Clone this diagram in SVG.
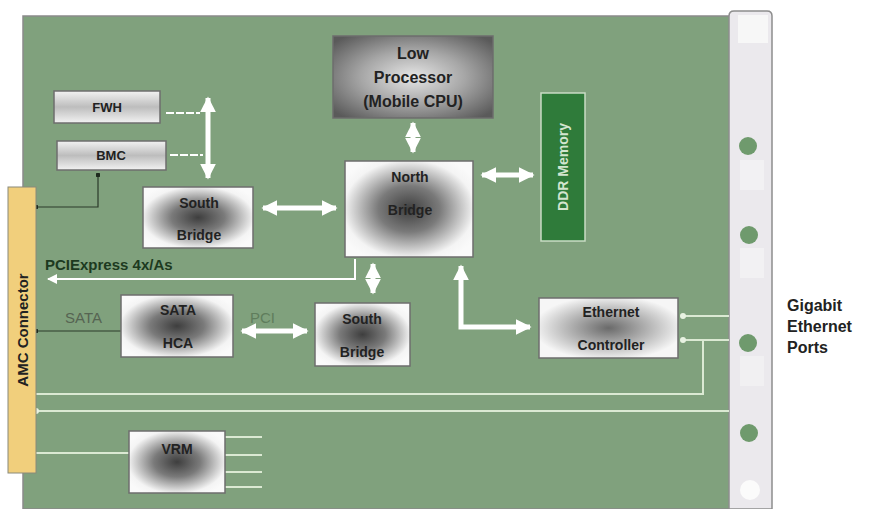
<svg xmlns="http://www.w3.org/2000/svg" width="871" height="509" viewBox="0 0 871 509">
<defs>
<radialGradient id="gDark" cx="0.5" cy="0.5" r="0.6">
<stop offset="0" stop-color="#3e3e3e"/>
<stop offset="0.4" stop-color="#7a7a7a"/>
<stop offset="0.85" stop-color="#f4f4f4"/>
<stop offset="1" stop-color="#fafafa"/>
</radialGradient>
<radialGradient id="gMid" cx="0.5" cy="0.5" r="0.6">
<stop offset="0" stop-color="#6a6a6a"/>
<stop offset="0.4" stop-color="#a8a8a8"/>
<stop offset="0.9" stop-color="#f6f6f6"/>
</radialGradient>
<radialGradient id="gProc" cx="0.5" cy="0.5" r="0.65">
<stop offset="0" stop-color="#e6e6e6"/>
<stop offset="0.5" stop-color="#a6a6a6"/>
<stop offset="1" stop-color="#5a5a5a"/>
</radialGradient>
<linearGradient id="gBar" x1="0" y1="0" x2="0" y2="1">
<stop offset="0" stop-color="#f2f2f2"/>
<stop offset="0.5" stop-color="#bdbdbd"/>
<stop offset="1" stop-color="#f2f2f2"/>
</linearGradient>
<marker id="ah" viewBox="0 0 10 10" refX="9" refY="5" markerWidth="3.2" markerHeight="3.2" orient="auto-start-reverse" markerUnits="strokeWidth">
<path d="M0,0 L10,5 L0,10 z" fill="#ffffff"/>
</marker>
<marker id="ahs" viewBox="0 0 10 10" refX="9" refY="5" markerWidth="5" markerHeight="5" orient="auto-start-reverse" markerUnits="strokeWidth">
<path d="M0,0 L10,5 L0,10 z" fill="#ffffff"/>
</marker>
<marker id="dotd" viewBox="0 0 10 10" refX="5" refY="5" markerWidth="4" markerHeight="4" markerUnits="strokeWidth">
<circle cx="5" cy="5" r="5" fill="#1e2a1e"/>
</marker>
<marker id="dotl" viewBox="0 0 10 10" refX="5" refY="5" markerWidth="3" markerHeight="3" markerUnits="strokeWidth">
<circle cx="5" cy="5" r="5" fill="#e8f2e2"/>
</marker>
</defs>
<style>
.t{font-family:"Liberation Sans",Arial,sans-serif;font-weight:bold;fill:#222;text-anchor:middle}
.box{stroke:#6d6d6d;stroke-width:1.5}
.fat{stroke:#ffffff;stroke-width:5;fill:none}
.thin{stroke:#ffffff;stroke-width:2;fill:none}
.trace{stroke:#dbe9d3;stroke-width:2;fill:none}
.dark{stroke:#2a3a2a;stroke-width:1.2;fill:none}
.port{fill:#6f9a6d}
.lab{font-family:"Liberation Sans",Arial,sans-serif;font-size:15px}
</style>
<rect width="871" height="509" fill="#ffffff"/>
<!-- board -->
<rect x="23" y="16" width="708" height="493" fill="#80a17d" stroke="#8a8a8a" stroke-width="1.5"/>
<!-- faceplate -->
<g id="faceplate">
<path d="M729,509 L729,16 Q729,11 734,11 L767,11 Q772,11 772,16 L772,509 Z" fill="#ebe9ed" stroke="#8d8d8d" stroke-width="1.5"/>
<rect x="738" y="15" width="30" height="28" fill="#f7f7f7"/>
<rect x="740" y="160" width="24" height="30" fill="#f2f1f3"/>
<rect x="740" y="248" width="24" height="30" fill="#f2f1f3"/>
<rect x="740" y="356" width="24" height="30" fill="#f1f0f2"/>
<circle class="port" cx="748" cy="146" r="9"/>
<circle class="port" cx="749" cy="235" r="9"/>
<circle class="port" cx="748" cy="343" r="9"/>
<circle class="port" cx="749" cy="433" r="9"/>
<circle cx="750" cy="490" r="10" fill="#fbfbfb"/>
</g>
<!-- connectors -->
<g id="connectors">
<line class="fat" x1="208" y1="98" x2="208" y2="178" marker-start="url(#ah)" marker-end="url(#ah)"/>
<line class="thin" x1="166" y1="113" x2="200" y2="113" stroke-dasharray="8,2"/>
<line class="thin" x1="170" y1="155" x2="203" y2="155" stroke-dasharray="8,2"/>
<polyline class="dark" points="98,175 98,207 36,207" marker-start="url(#dotd)" marker-end="url(#dotd)"/>
<line class="fat" x1="263" y1="208" x2="336" y2="208" marker-start="url(#ah)" marker-end="url(#ah)"/>
<line class="fat" x1="413" y1="123" x2="413" y2="152" marker-start="url(#ah)" marker-end="url(#ah)"/>
<line class="fat" x1="482" y1="175" x2="533" y2="175" marker-start="url(#ah)" marker-end="url(#ah)"/>
<polyline class="thin" points="355,259 355,279 48,279" marker-end="url(#ahs)"/>
<line class="fat" x1="373" y1="264" x2="373" y2="293" marker-start="url(#ah)" marker-end="url(#ah)"/>
<polyline class="fat" points="461,266 461,327 530,327" marker-start="url(#ah)" marker-end="url(#ah)"/>
<line class="dark" x1="36" y1="331" x2="121" y2="331" marker-start="url(#dotd)"/>
<line class="fat" x1="242" y1="331" x2="307" y2="331" marker-start="url(#ah)" marker-end="url(#ah)"/>
<line class="trace" x1="683" y1="316" x2="729" y2="316" marker-start="url(#dotl)"/>
<line class="trace" x1="683" y1="340" x2="729" y2="340" marker-start="url(#dotl)"/>
<polyline class="trace" points="703,340 703,394 36,394"/>
<line class="trace" x1="36" y1="411" x2="729" y2="411" marker-start="url(#dotl)"/>
<line class="trace" x1="36" y1="453" x2="129" y2="453"/>
<line class="trace" x1="225" y1="437" x2="262" y2="437"/>
<line class="trace" x1="225" y1="455" x2="262" y2="455"/>
<line class="trace" x1="225" y1="472" x2="262" y2="472"/>
<line class="trace" x1="225" y1="487" x2="262" y2="487"/>
</g>
<!-- AMC connector -->
<g id="amc">
<rect x="8" y="187" width="28" height="286" fill="#f1cf7c" stroke="#8a8a7a" stroke-width="1"/>
<text class="t" transform="translate(28,330) rotate(-90)" font-size="15">AMC Connector</text>
</g>
<g id="fwh">
<rect class="box" x="54" y="91" width="106" height="32" fill="url(#gBar)"/>
<text class="t" x="107" y="112" font-size="13">FWH</text>
</g>
<g id="bmc">
<rect class="box" x="57" y="141" width="109" height="29" fill="url(#gBar)"/>
<text class="t" x="111" y="160" font-size="13">BMC</text>
</g>
<g id="south-bridge-1">
<rect class="box" x="143" y="187" width="110" height="61" fill="url(#gDark)"/>
<text class="t" x="199" y="208" font-size="14">South</text>
<text class="t" x="199" y="240" font-size="14">Bridge</text>
</g>
<g id="processor">
<rect class="box" x="333" y="36" width="160" height="82" fill="url(#gProc)" stroke="#555"/>
<text class="t" x="413" y="59" font-size="16">Low</text>
<text class="t" x="413" y="83" font-size="16">Processor</text>
<text class="t" x="413" y="107" font-size="16">(Mobile CPU)</text>
</g>
<g id="north-bridge">
<rect class="box" x="345" y="161" width="128" height="96" fill="url(#gDark)"/>
<text class="t" x="410" y="182" font-size="14">North</text>
<text class="t" x="410" y="215" font-size="14">Bridge</text>
</g>
<g id="ddr">
<rect x="541" y="93" width="44" height="148" fill="#2f7b3a" stroke="#c9dcc5" stroke-width="1.5"/>
<text class="t" transform="translate(568,167) rotate(-90)" font-size="14" style="fill:#d3e5cf">DDR Memory</text>
</g>
<g id="ethernet">
<rect class="box" x="539" y="298" width="139" height="60" fill="url(#gMid)"/>
<text class="t" x="611" y="317" font-size="14">Ethernet</text>
<text class="t" x="611" y="350" font-size="14">Controller</text>
</g>
<g id="sata-hca">
<rect class="box" x="121" y="295" width="112" height="62" fill="url(#gDark)"/>
<text class="t" x="178" y="315" font-size="14">SATA</text>
<text class="t" x="178" y="348" font-size="14">HCA</text>
</g>
<g id="south-bridge-2">
<rect class="box" x="315" y="303" width="95" height="63" fill="url(#gDark)"/>
<text class="t" x="362" y="324" font-size="14">South</text>
<text class="t" x="362" y="357" font-size="14">Bridge</text>
</g>
<g id="vrm">
<rect class="box" x="129" y="431" width="96" height="62" fill="url(#gDark)"/>
<text class="t" x="177" y="454" font-size="14">VRM</text>
</g>
<!-- labels -->
<text class="lab" x="45" y="270" font-weight="bold" fill="#1d3a1f">PCIExpress 4x/As</text>
<text class="lab" x="65" y="323" fill="#566452">SATA</text>
<text class="lab" x="250" y="323" fill="#5f7d5c">PCI</text>
<text class="t" x="787" y="311" font-size="16" style="text-anchor:start">Gigabit</text>
<text class="t" x="787" y="332" font-size="16" style="text-anchor:start">Ethernet</text>
<text class="t" x="787" y="353" font-size="16" style="text-anchor:start">Ports</text>
</svg>
